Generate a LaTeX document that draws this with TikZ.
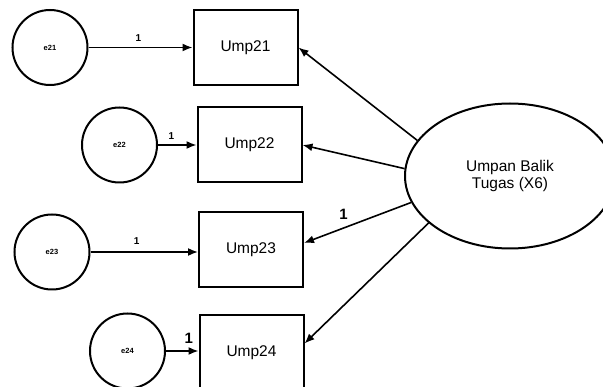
\documentclass[tikz,border=0pt]{standalone}
\usepackage{fontspec}
\setmainfont{Liberation Sans}
\usetikzlibrary{arrows.meta,shapes.geometric}
\begin{document}
\begin{tikzpicture}[x=1pt,y=-1pt,
  errc/.style={circle,draw,line width=2pt,minimum size=75pt,inner sep=0pt,font=\fontsize{7.5}{8}\selectfont\bfseries},
  obs/.style={rectangle,draw,line width=2pt,minimum width=104pt,minimum height=75pt,inner sep=0pt,font=\fontsize{15.5}{16}\selectfont},
  lat/.style={ellipse,draw,line width=2pt,minimum width=210pt,minimum height=145pt,inner sep=0pt,align=center,font=\fontsize{15.5}{17}\selectfont},
  arr/.style={line width=1.6pt,-{Latex[length=10pt,width=8pt]}},
  lbl/.style={inner sep=0pt,font=\fontsize{10}{10}\selectfont\bfseries},
  biglbl/.style={inner sep=0pt,font=\fontsize{15}{15}\selectfont\bfseries}]
\clip (0,0) rectangle (603,387);
\fill[white] (0,0) rectangle (603,387);
% latent
\node[lat] (ell) at (510,176) {Umpan Balik\\Tugas (X6)};
% indicators
\node[obs] (u21) at (245.5,47.5) {Ump21};
\node[obs] (u22) at (249.5,145) {Ump22};
\node[obs] (u23) at (251,249.5) {Ump23};
\node[obs] (u24) at (251.5,352.5) {Ump24};
% errors
\node[errc] (e21) at (50,47.5) {e21};
\node[errc] (e22) at (119.5,145) {e22};
\node[errc] (e23) at (52,252) {e23};
\node[errc] (e24) at (127.5,351) {e24};
% error arrows
\draw[arr] (e21) -- (u21) node[lbl,pos=0.48,above=5pt] (l1) {1};
\draw[arr] (e22) -- (u22) node[lbl,pos=0.35,above=5pt] (l2) {1};
\draw[arr] (e23.east) -- (e23.east -| u23.west) node[lbl,pos=0.43,above=7pt] (l3) {1};
\draw[arr] (e24.east) -- (e24.east -| u24.west) node[biglbl,pos=0.7,above=7pt] (l4) {1};
% loadings
\draw[arr] (ell.159) -- (u21.east);
\draw[arr] (ell.176) -- (u22.east);
\draw[arr] (ell.195) -- ([yshift=6.5pt]u23.east) node[biglbl,pos=0.63,above=8pt] (l5) {1};
\draw[arr] (ell.210) -- ([yshift=9pt]u24.east);
\end{tikzpicture}
\end{document}
